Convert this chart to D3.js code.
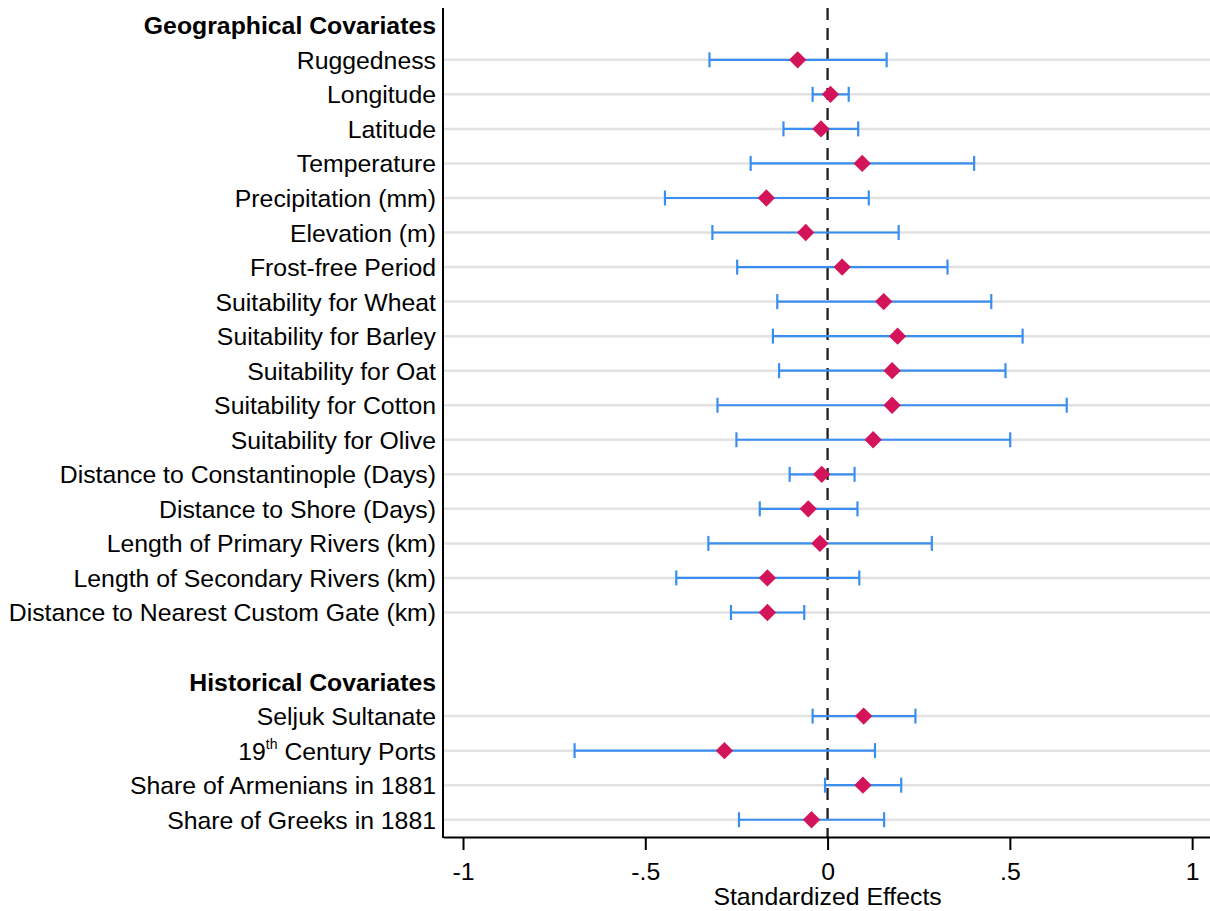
<!DOCTYPE html>
<html>
<head>
<meta charset="utf-8">
<script src="https://cdn.jsdelivr.net/npm/d3@7"></script>
<style>
  body { margin: 0; background: #fff; }
  svg text { font-family: "Liberation Sans", Arial, sans-serif; }
</style>
</head>
<body>
<div id="chart"></div>
<script>
// Row labels, top to bottom ("" = empty spacer row)
var labels = [
    "Geographical Covariates", "Ruggedness", "Longitude", "Latitude", "Temperature",
    "Precipitation (mm)", "Elevation (m)", "Frost-free Period", "Suitability for Wheat",
    "Suitability for Barley", "Suitability for Oat", "Suitability for Cotton",
    "Suitability for Olive", "Distance to Constantinople (Days)", "Distance to Shore (Days)",
    "Length of Primary Rivers (km)", "Length of Secondary Rivers (km)",
    "Distance to Nearest Custom Gate (km)", "", "Historical Covariates",
    "Seljuk Sultanate", "19th Century Ports", "Share of Armenians in 1881", "Share of Greeks in 1881"
];
var headers = ["Geographical Covariates", "Historical Covariates"];

// Point estimates and 95% CI bounds (null for header / spacer rows)
var estimate = [null, -0.082, 0.008, -0.018, 0.095, -0.168, -0.060, 0.040, 0.154,
    0.192, 0.177, 0.177, 0.125, -0.016, -0.053, -0.021, -0.165, -0.165, null, null,
    0.099, -0.283, 0.097, -0.044];
var lower = [null, -0.324, -0.041, -0.121, -0.211, -0.446, -0.316, -0.248, -0.138,
    -0.150, -0.133, -0.302, -0.250, -0.104, -0.186, -0.327, -0.415, -0.265, null, null,
    -0.041, -0.694, -0.007, -0.243];
var upper = [null, 0.162, 0.058, 0.084, 0.402, 0.113, 0.195, 0.329, 0.449,
    0.535, 0.488, 0.656, 0.501, 0.074, 0.082, 0.286, 0.087, -0.064, null, null,
    0.241, 0.130, 0.202, 0.155];

var xTicks = [-1, -0.5, 0, 0.5, 1];
var xTickLabels = ["-1", "-.5", "0", ".5", "1"];

var width = 1210, height = 911;
var plotLeft = 443, plotRight = 1210, plotTop = 8, plotBottom = 837;
var fontSize = "24.8px";

var svg = d3.select("#chart").append("svg")
    .attr("width", width)
    .attr("height", height);

var xScale = d3.scaleLinear()
    .domain([-1.0549, 1.049])
    .range([plotLeft, plotRight]);

var yScale = d3.scaleLinear()
    .domain([-0.5, labels.length - 0.5])
    .range([plotTop, plotBottom]);

var rows = labels.map(function(d, i) {
    return { label: d, i: i, est: estimate[i], lo: lower[i], hi: upper[i] };
});
var dataRows = rows.filter(function(d) { return d.est !== null; });

// gray row guide lines
svg.append("g").selectAll("line")
    .data(dataRows)
    .enter()
    .append("line")
    .attr("x1", plotLeft)
    .attr("x2", plotRight)
    .attr("y1", function(d) { return yScale(d.i); })
    .attr("y2", function(d) { return yScale(d.i); })
    .attr("stroke", "#e2e2e2")
    .attr("stroke-width", 2.5);

// zero reference line
svg.append("line")
    .attr("x1", xScale(0)).attr("x2", xScale(0))
    .attr("y1", plotTop).attr("y2", plotBottom)
    .attr("stroke", "#1e1e1e")
    .attr("stroke-width", 2.3)
    .attr("stroke-dasharray", "12,8");

// confidence intervals
var ci = svg.append("g")
    .attr("stroke", "#3a8ef0")
    .attr("stroke-width", 2.2);

ci.selectAll("line.bar")
    .data(dataRows)
    .enter()
    .append("line")
    .attr("class", "bar")
    .attr("x1", function(d) { return xScale(d.lo); })
    .attr("x2", function(d) { return xScale(d.hi); })
    .attr("y1", function(d) { return yScale(d.i); })
    .attr("y2", function(d) { return yScale(d.i); });

["lo", "hi"].forEach(function(k) {
    ci.selectAll("line.cap-" + k)
        .data(dataRows)
        .enter()
        .append("line")
        .attr("class", "cap-" + k)
        .attr("x1", function(d) { return xScale(d[k]); })
        .attr("x2", function(d) { return xScale(d[k]); })
        .attr("y1", function(d) { return yScale(d.i) - 7.5; })
        .attr("y2", function(d) { return yScale(d.i) + 7.5; });
});

// point estimates (diamonds)
svg.append("g").selectAll("path")
    .data(dataRows)
    .enter()
    .append("path")
    .attr("d", d3.symbol().type(d3.symbolSquare).size(150))
    .attr("transform", function(d) {
        return "translate(" + xScale(d.est) + "," + yScale(d.i) + ") rotate(45)";
    })
    .attr("fill", "#d4145a");

// axes lines
svg.append("line")
    .attr("x1", plotLeft).attr("x2", plotLeft)
    .attr("y1", plotTop).attr("y2", plotBottom + 1)
    .attr("stroke", "#000").attr("stroke-width", 2);

var xAxis = d3.axisBottom(xScale)
    .tickValues(xTicks)
    .tickFormat(function(d, i) { return xTickLabels[i]; })
    .tickSize(13)
    .tickPadding(12)
    .tickSizeOuter(0);

var gx = svg.append("g")
    .attr("transform", "translate(0," + plotBottom + ")")
    .call(xAxis);
gx.select(".domain").attr("stroke", "#000").attr("stroke-width", 2);
gx.selectAll(".tick line").attr("stroke", "#000").attr("stroke-width", 2);
gx.selectAll(".tick text")
    .attr("font-size", fontSize)
    .attr("fill", "#000")
    .style("font-family", "'Liberation Sans', Arial, sans-serif");

svg.append("text")
    .attr("x", xScale(0))
    .attr("y", 905)
    .attr("text-anchor", "middle")
    .attr("font-size", fontSize)
    .attr("fill", "#000")
    .text("Standardized Effects");

// row labels
var lab = svg.append("g").selectAll("text")
    .data(rows.filter(function(d) { return d.label !== ""; }))
    .enter()
    .append("text")
    .attr("x", 436)
    .attr("y", function(d) { return yScale(d.i) + 9; })
    .attr("text-anchor", "end")
    .attr("font-size", fontSize)
    .attr("font-weight", function(d) { return headers.indexOf(d.label) >= 0 ? "bold" : "normal"; })
    .attr("fill", "#000");

lab.each(function(d) {
    var t = d3.select(this);
    if (d.label.indexOf("19th") === 0) {
        t.append("tspan").text("19");
        t.append("tspan").attr("dy", -11).attr("font-size", "14px").text("th");
        t.append("tspan").attr("dy", 11).text(" " + d.label.slice(5));
    } else {
        t.text(d.label);
    }
});
</script>
</body>
</html>
